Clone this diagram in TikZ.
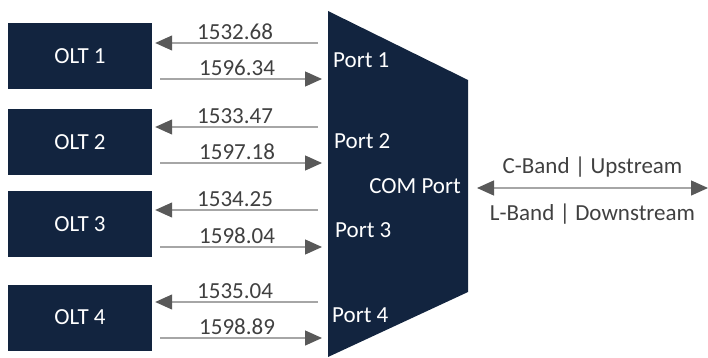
\documentclass[tikz,border=0pt]{standalone}
\usepackage{fontspec}
\setmainfont{Carlito}
\usetikzlibrary{arrows.meta}
\definecolor{navy}{HTML}{12243F}
\definecolor{wirecol}{HTML}{A6A6A6}
\definecolor{tipcol}{HTML}{595959}
\definecolor{labelcol}{HTML}{404040}
\tikzset{
  olt/.style={fill=navy, text=white, minimum width=144pt, minimum height=66pt, inner sep=0pt},
  wire/.style={draw=wirecol, line width=1.3pt},
  tip/.style={-{Triangle[length=17pt,width=15pt,fill=tipcol,color=tipcol]}},
  bothtips/.style={{Triangle[length=17pt,width=15pt,fill=tipcol,color=tipcol]}-{Triangle[length=17pt,width=15pt,fill=tipcol,color=tipcol]}},
  wavelen/.style={text=labelcol, anchor=south, inner sep=2.5pt},
  portlbl/.style={text=white, inner sep=0pt},
  bandlbl/.style={text=labelcol, inner sep=0pt, anchor=base}
}
\begin{document}
\begin{tikzpicture}[x=1pt, y=-1pt, font=\fontsize{23}{27}\selectfont]
\useasboundingbox (0,0) rectangle (708,358);
% multiplexer body
\coordinate (mtl) at (328,11);
\coordinate (mtr) at (468,80);
\coordinate (mbr) at (468,292);
\coordinate (mbl) at (328,357);
\fill[navy] (mtl) -- (mtr) -- (mbr) -- (mbl) -- cycle;
\foreach \i/\yc/\yu/\yl/\up/\dn in {1/56/43/79/1532.68/1596.34,2/142/127/163/1533.47/1597.18,3/224/210/247/1534.25/1598.04,4/317.5/302/338/1535.04/1598.89}
{
\node[olt] (olt\i) at (80,\yc) {OLT \i};
\coordinate (dn\i) at (318,\yu);
\coordinate (up\i) at (322,\yl);
\draw[wire,tip,shorten >=3pt] (dn\i) -- node[wavelen] {\up} (olt\i.east |- dn\i);
\draw[wire,tip,shorten <=8pt] (olt\i.east |- up\i) -- node[wavelen] {\dn} (up\i);
}
\foreach \i/\px/\py in {1/333/68,2/334/149,3/335/237,4/332/322}
{
\node[portlbl, anchor=base west] (port\i) at (\px,\py) {Port \i};
}
\node[portlbl, anchor=base east] (com) at (461,193) {COM Port};
% common port link
\coordinate (comin) at (477,188);
\coordinate (line) at (708,188);
\draw[wire,bothtips] (comin) -- node[bandlbl, yshift=15pt] {C-Band | Upstream}
  node[bandlbl, yshift=-32pt] {L-Band | Downstream} (line);
\end{tikzpicture}
\end{document}
